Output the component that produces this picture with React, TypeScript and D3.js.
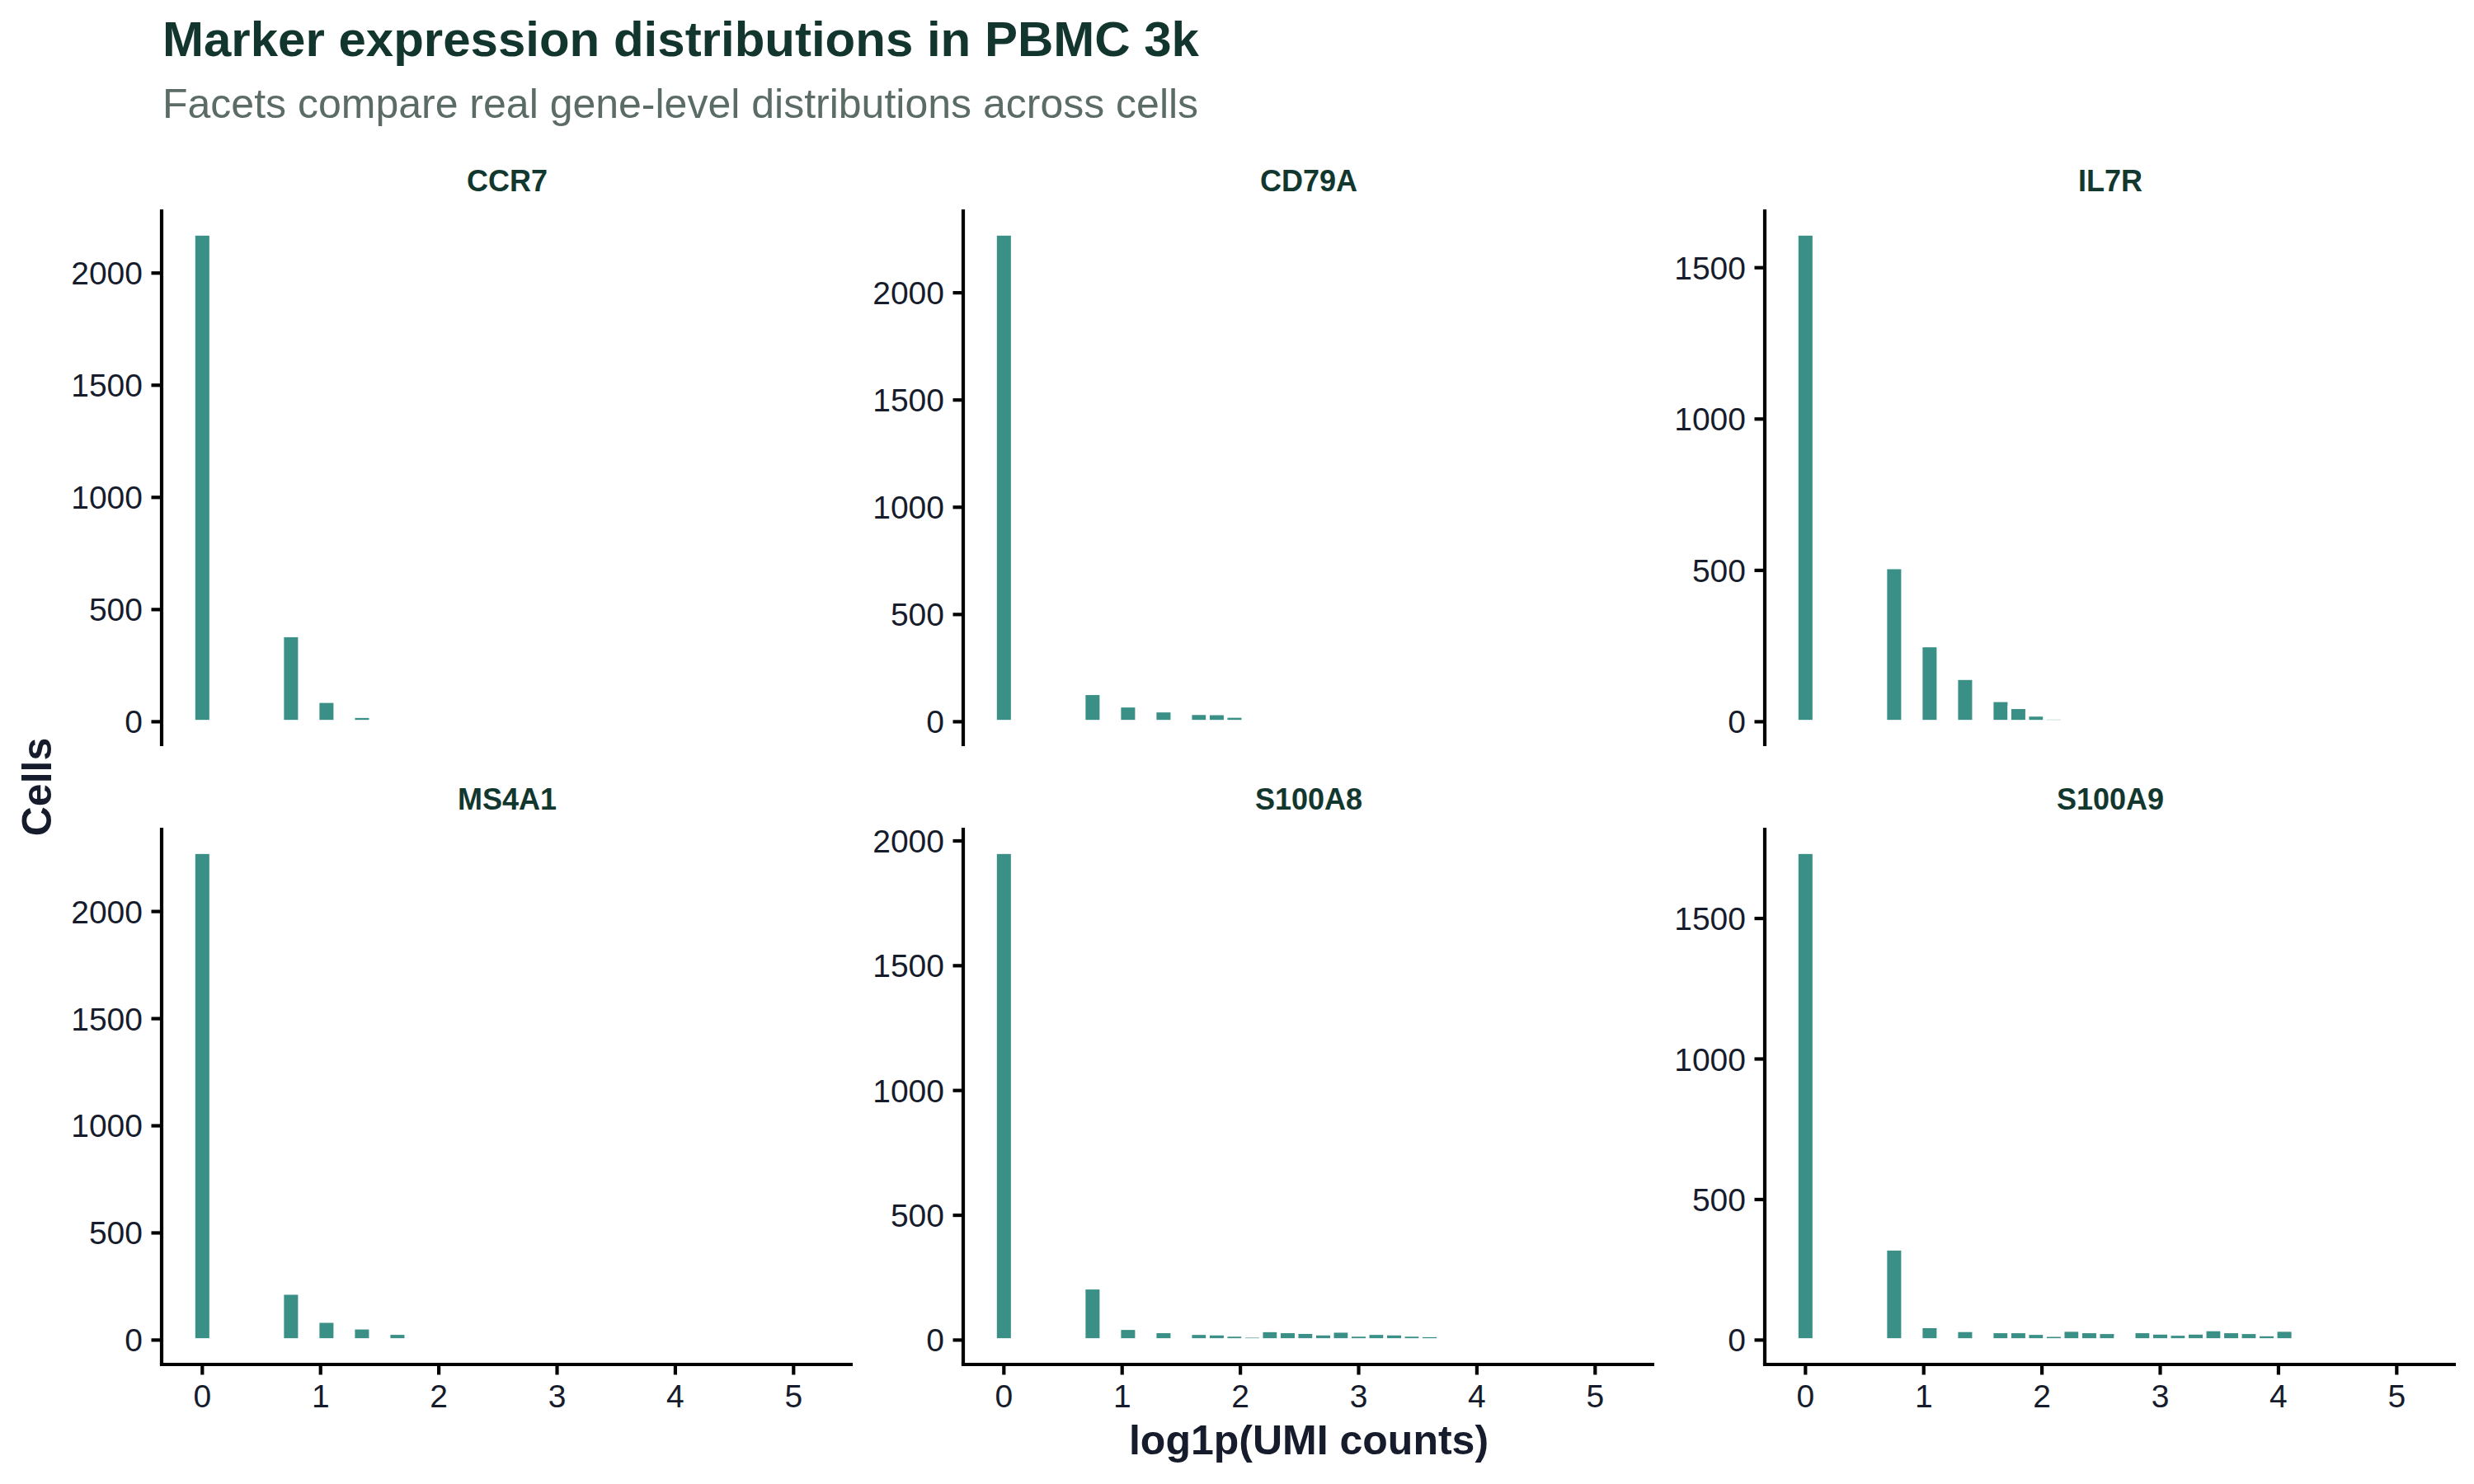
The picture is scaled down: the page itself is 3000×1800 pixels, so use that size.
import * as d3 from "d3";

// histogram bins: [bin centre on log1p scale, number of cells]
const ccr7 = [[0, 2175], [0.75, 385], [1.05, 92], [1.35, 25]];
const cd79a = [[0, 2275], [0.75, 133], [1.05, 75], [1.35, 52], [1.65, 40], [1.8, 39], [1.95, 27], [2.25, 10]];
const il7r = [[0, 1612], [0.75, 510], [1.05, 252], [1.35, 144], [1.65, 71], [1.8, 48], [1.95, 23], [2.1, 13]];
const ms4a1 = [[0, 2277], [0.75, 220], [1.05, 89], [1.35, 58], [1.65, 33]];
const s100a8 = [
  [0, 1955], [0.75, 210], [1.05, 48], [1.35, 35], [1.65, 28], [1.8, 26], [1.95, 21], [2.1, 17],
  [2.25, 39], [2.4, 35], [2.55, 32], [2.7, 26], [2.85, 37], [3.0, 21], [3.15, 28], [3.3, 26],
  [3.45, 21], [3.6, 19],
];
const s100a9 = [
  [0, 1736], [0.75, 325], [1.05, 49], [1.35, 35], [1.65, 31], [1.8, 31], [1.95, 25], [2.1, 18],
  [2.25, 36], [2.4, 31], [2.55, 28], [2.7, 8], [2.85, 31], [3.0, 26], [3.15, 22], [3.3, 26],
  [3.45, 38], [3.6, 31], [3.75, 28], [3.9, 20], [4.05, 36], [4.5, 8],
];

const genes = ["CCR7", "CD79A", "IL7R", "MS4A1", "S100A8", "S100A9"];
const geneBins = [ccr7, cd79a, il7r, ms4a1, s100a8, s100a9];
const xTicks = [0, 1, 2, 3, 4, 5];
const yTicks = [0, 500, 1000, 1500, 2000];
const binWidth = 0.15;

const W = 3000;
const H = 1800;
const left = 196;
const top = 254;
const panelW = 838;
const panelH = 651;
const gapX = 134;
const gapY = 99;

const font = "'Liberation Sans', Arial, Helvetica, sans-serif";
const barFill = "#3a8f86";
const ink = "#161c2c";

const Panel = ({ gene, bins, col, row }) => {
  const px = left + col * (panelW + gapX);
  const py = top + row * (panelH + gapY);
  const maxCount = d3.max(bins, (d) => d[1]);

  const x = d3.scaleLinear().domain([-0.344, 5.5]).range([0, panelW]);
  const y = d3
    .scaleLinear()
    .domain([-0.05 * maxCount, 1.05 * maxCount])
    .range([panelH, 0]);

  const ticks = yTicks.filter((t) => t <= y.domain()[1]);
  const bottomRow = row === 1;

  return (
    <g transform={`translate(${px},${py})`}>
      <text
        x={panelW / 2}
        y={-22}
        textAnchor="middle"
        fontFamily={font}
        fontWeight="bold"
        fontSize={36}
        fill="#12372e"
      >
        {gene}
      </text>
      {bins.map(([c, n]) => (
        <rect
          key={c}
          x={x(c - binWidth / 2)}
          width={x(c + binWidth / 2) - x(c - binWidth / 2)}
          y={y(n)}
          height={y(0) - y(n)}
          fill={barFill}
          stroke="#fff"
          strokeWidth={4.5}
        />
      ))}
      <line x1={0} x2={0} y1={0} y2={panelH} stroke="#000" strokeWidth={4.2} />
      {ticks.map((t) => (
        <g key={t} transform={`translate(0,${y(t)})`}>
          <line x1={-12.5} x2={0} stroke="#000" strokeWidth={4.2} />
          <text
            x={-23}
            y={14}
            textAnchor="end"
            fontFamily={font}
            fontSize={39}
            fill={ink}
          >
            {t}
          </text>
        </g>
      ))}
      {bottomRow && (
        <g>
          <line x1={-2.1} x2={panelW} y1={panelH} y2={panelH} stroke="#000" strokeWidth={4.2} />
          {xTicks.map((t) => (
            <g key={t} transform={`translate(${x(t)},${panelH})`}>
              <line y1={0} y2={12.5} stroke="#000" strokeWidth={4.2} />
              <text
                y={52}
                textAnchor="middle"
                fontFamily={font}
                fontSize={39}
                fill={ink}
              >
                {t}
              </text>
            </g>
          ))}
        </g>
      )}
    </g>
  );
};

const App = () => {
  const right = left + 3 * panelW + 2 * gapX;
  return (
    <svg
      width={W}
      height={H}
      viewBox={`0 0 ${W} ${H}`}
      style={{ position: "absolute", left: 0, top: 0, background: "#fff" }}
    >
      <rect width={W} height={H} fill="#fff" />
      <text x={197} y={68} fontFamily={font} fontWeight="bold" fontSize={60} fill="#12352d">
        Marker expression distributions in PBMC 3k
      </text>
      <text x={197} y={143} fontFamily={font} fontSize={50} fill="#5b6b66">
        Facets compare real gene-level distributions across cells
      </text>
      {genes.map((g, i) => (
        <Panel key={g} gene={g} bins={geneBins[i]} col={i % 3} row={Math.floor(i / 3)} />
      ))}
      <text
        x={(left + right) / 2}
        y={1764}
        textAnchor="middle"
        fontFamily={font}
        fontWeight="bold"
        fontSize={50}
        fill={ink}
      >
        log1p(UMI counts)
      </text>
      <text
        transform={`translate(62,${(top + top + 2 * panelH + gapY) / 2}) rotate(-90)`}
        textAnchor="middle"
        fontFamily={font}
        fontWeight="bold"
        fontSize={50}
        fill={ink}
      >
        Cells
      </text>
    </svg>
  );
};

export default App;
